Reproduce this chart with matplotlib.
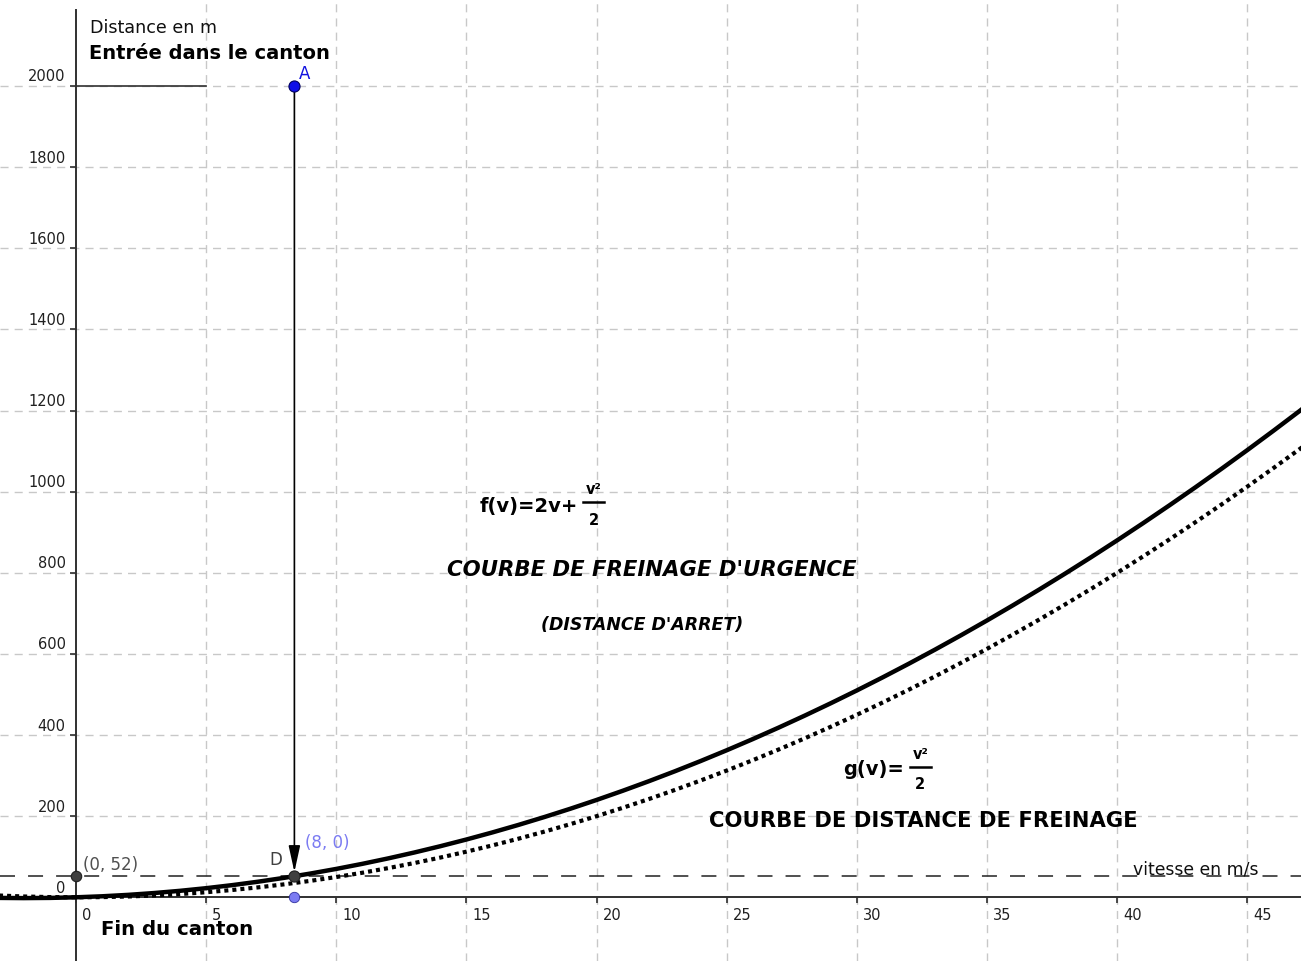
import numpy as np
import matplotlib
matplotlib.use("Agg")
import matplotlib.pyplot as plt
from matplotlib.transforms import ScaledTranslation

plt.rcParams["font.family"] = ["DejaVu Sans"]
plt.rcParams["lines.scale_dashes"] = False

# -----------------------------
# Data
# -----------------------------
vitesse = list(range(-3, 49))
# f(v) = 2v + v^2/2  -> distance d'arret
dist_arret = [-1.5, -2, -1.5, 0, 2.5, 6, 10.5, 16, 22.5, 30, 38.5, 48, 58.5, 70,
              82.5, 96, 110.5, 126, 142.5, 160, 178.5, 198, 218.5, 240, 262.5, 286,
              310.5, 336, 362.5, 390, 418.5, 448, 478.5, 510, 542.5, 576, 610.5, 646,
              682.5, 720, 758.5, 798, 838.5, 880, 922.5, 966, 1010.5, 1056, 1102.5,
              1150, 1198.5, 1248]
# g(v) = v^2/2 -> distance de freinage
dist_freinage = [4.5, 2, 0.5, 0, 0.5, 2, 4.5, 8, 12.5, 18, 24.5, 32, 40.5, 50,
                 60.5, 72, 84.5, 98, 112.5, 128, 144.5, 162, 180.5, 200, 220.5, 242,
                 264.5, 288, 312.5, 338, 364.5, 392, 420.5, 450, 480.5, 512, 544.5, 578,
                 612.5, 648, 684.5, 722, 760.5, 800, 840.5, 882, 924.5, 968, 1012.5,
                 1058, 1104.5, 1152]

x_ticks = [0, 5, 10, 15, 20, 25, 30, 35, 40, 45]
y_ticks = [0, 200, 400, 600, 800, 1000, 1200, 1400, 1600, 1800, 2000]

seuil = 52          # distance limite (0, 52)
v_A = 8.39          # abscisse de A et D
y_A = 2000
entree_x = [0, 5]   # segment "entree dans le canton"

# -----------------------------
# Pixel <-> data helpers (axes fill the figure)
# -----------------------------
W, H = 1301, 961
X0PX, XSC = 76.0, 26.03
Y0PX, YSC = 897.3, 0.40565


def px_x(p):
    return (p - X0PX) / XSC


def px_y(p):
    return (Y0PX - p) / YSC


fig = plt.figure(figsize=(W / 100, H / 100), dpi=100)
ax = fig.add_axes([0, 0, 1, 1])
ax.set_xlim(px_x(0), px_x(W))
ax.set_ylim(px_y(H), px_y(0))

# grid
grid_kw = dict(color="#c8c8c8", lw=1.0, dashes=(5.8, 4.4), zorder=0)
for xv in x_ticks[1:]:
    ax.axvline(xv, **grid_kw)
for yv in y_ticks[1:]:
    ax.axhline(yv, **grid_kw)

# axes through origin
for side in ["top", "right"]:
    ax.spines[side].set_visible(False)
ax.spines["left"].set_position(("data", 0))
ax.spines["bottom"].set_position(("data", 0))
ax.spines["left"].set_bounds(px_y(H), px_y(10))
for side in ["left", "bottom"]:
    ax.spines[side].set_linewidth(1.4)
    ax.spines[side].set_color("#303030")
    ax.spines[side].set_zorder(3)

ax.set_xticks(x_ticks)
ax.set_xticklabels([str(v) for v in x_ticks])
ax.set_yticks(y_ticks)
ax.set_yticklabels([str(v) for v in y_ticks])
ax.tick_params(axis="both", direction="out", length=4, width=1.2,
               color="#303030", labelsize=10.5, labelcolor="#202020")
ax.tick_params(axis="x", pad=4)
ax.tick_params(axis="y", pad=3.5)

off_x = ScaledTranslation(6 / 100, 0, fig.dpi_scale_trans)
for lab in ax.get_xticklabels():
    lab.set_horizontalalignment("left")
    lab.set_transform(lab.get_transform() + off_x)
off_y = ScaledTranslation(0, 4.5 / 100, fig.dpi_scale_trans)
for lab in ax.get_yticklabels():
    lab.set_verticalalignment("baseline")
    lab.set_transform(lab.get_transform() + off_y)

# horizontal dashed limit
ax.axhline(seuil, color="#202020", lw=1.1, dashes=(10.8, 9.4), zorder=2)

# segment at 2000
ax.plot(entree_x, [y_A, y_A], color="#303030", lw=1.2, zorder=2)

# curves
ax.plot(vitesse, dist_freinage, color="black", lw=3.0, dashes=(2.9, 2.9),
        dash_capstyle="butt", zorder=4)
ax.plot(vitesse, dist_arret, color="black", lw=3.2, solid_joinstyle="round", zorder=4)

# arrow A -> D
ax.annotate("", xy=(v_A, seuil), xytext=(v_A, y_A),
            arrowprops=dict(arrowstyle="-|>,head_length=1.6,head_width=0.35",
                            color="black", lw=1.2, mutation_scale=10,
                            shrinkA=0, shrinkB=3),
            zorder=5)

# points
ax.plot([v_A], [y_A], "o", ms=8, mfc="#1010e8", mec="#000060", mew=0.8, zorder=6)
ax.plot([v_A], [seuil], "o", ms=8, mfc="#404040", mec="#202020", mew=0.8, zorder=6)
ax.plot([0], [seuil], "o", ms=7.5, mfc="#404040", mec="#202020", mew=0.8, zorder=6)
ax.plot([v_A], [0], "o", ms=7.5, mfc="#7b7bf2", mec="#3030a0", mew=0.6, zorder=6)

# point labels
ax.text(px_x(299), px_y(79), "A", color="#1010e0", fontsize=12, va="baseline")
ax.text(px_x(269), px_y(865), "D", color="#404040", fontsize=12, va="baseline")
ax.text(px_x(83), px_y(870), "(0, 52)", color="#505050", fontsize=12, va="baseline")
ax.text(px_x(305), px_y(848), "(8, 0)", color="#7b7bf2", fontsize=12, va="baseline")

# axis titles
ax.text(px_x(90), px_y(33), "Distance en m", fontsize=12.6, va="baseline", color="#101010")
ax.text(px_x(89), px_y(59), "Entrée dans le canton", fontsize=14, fontweight="bold",
        va="baseline")
ax.text(px_x(101), px_y(935), "Fin du canton", fontsize=14.2, fontweight="bold",
        va="baseline")
ax.text(px_x(1133), px_y(874), "vitesse en m/s", fontsize=12.4, va="baseline",
        color="#101010")

# formula f
ax.text(px_x(480), px_y(512), "f(v)=2v+", fontsize=14, fontweight="bold", va="baseline")
ax.plot([px_x(583), px_x(604)], [px_y(502), px_y(502)], color="black", lw=1.8)
ax.text(px_x(594), px_y(494), "v²", fontsize=10.5, fontweight="bold", va="baseline",
        ha="center")
ax.text(px_x(594), px_y(525), "2", fontsize=10.5, fontweight="bold", va="baseline",
        ha="center")

ax.text(px_x(652), px_y(576), "COURBE DE FREINAGE D'URGENCE", fontsize=15.3,
        fontweight="bold", fontstyle="italic", ha="center", va="baseline")
ax.text(px_x(642), px_y(630), "(DISTANCE D'ARRET)", fontsize=12.5,
        fontweight="bold", fontstyle="italic", ha="center", va="baseline")

# formula g
ax.text(px_x(843), px_y(775), "g(v)=", fontsize=14, fontweight="bold", va="baseline")
ax.plot([px_x(910), px_x(931)], [px_y(767), px_y(767)], color="black", lw=1.8)
ax.text(px_x(921), px_y(759), "v²", fontsize=10.5, fontweight="bold", va="baseline",
        ha="center")
ax.text(px_x(920), px_y(789), "2", fontsize=10.5, fontweight="bold", va="baseline",
        ha="center")

ax.text(px_x(923), px_y(827), "COURBE DE DISTANCE DE FREINAGE", fontsize=15.2,
        fontweight="bold", ha="center", va="baseline")

fig.savefig("out.png", dpi=100)
plt.close(fig)
